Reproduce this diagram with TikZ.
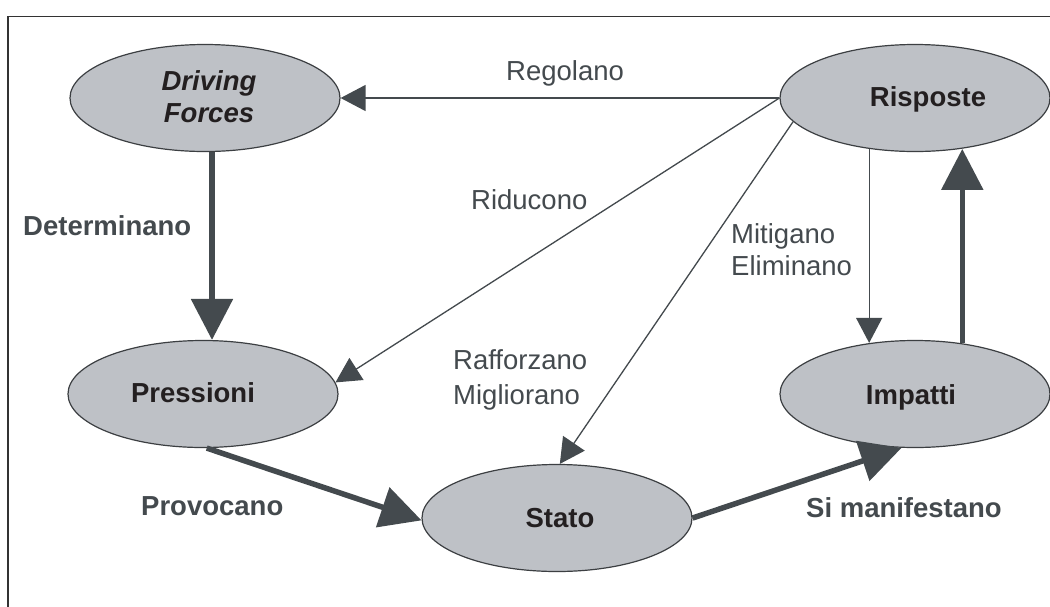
\documentclass[tikz,border=0pt]{standalone}
\usepackage{fontspec}
\setmainfont{Liberation Sans}
\usetikzlibrary{arrows.meta,shapes.geometric}
\definecolor{ln}{HTML}{444A4E}
\definecolor{fillg}{HTML}{BEC1C6}
\definecolor{ellb}{HTML}{3C3F42}
\definecolor{txt}{HTML}{231F20}
\definecolor{frm}{HTML}{333333}
\begin{document}
\begin{tikzpicture}[x=1pt,y=-1pt,
  ell/.style={ellipse, draw=ellb, line width=1.2pt, fill=fillg, minimum width=270pt, minimum height=107pt, inner sep=0pt},
  thinarr/.style={draw=ln, fill=ln, line width=1.3pt, -{Triangle[length=25pt,width=26pt]}},
  thickarr/.style={draw=ln, fill=ln, line width=5.5pt, -{Triangle[length=41pt,width=41pt]}},
  nt/.style={inner sep=0pt, text=txt, font=\fontsize{27.5}{32}\selectfont\bfseries, align=center},
  lbl/.style={inner sep=0pt, text=ln, font=\fontsize{27.5}{32}\selectfont, align=left, anchor=base west},
  blbl/.style={lbl, font=\fontsize{27.5}{32}\selectfont\bfseries}
]
\useasboundingbox (0,0) rectangle (1050,606);
\fill[white] (0,0) rectangle (1050,606);
\draw[frm, line width=1.5pt] (1060,16.5) -- (8,16.5) -- (8,616);

% ellipses
\node[ell] (DF) at (205,98) {};
\node[ell] (R) at (915,98) {};
\node[ell] (P) at (203,394) {};
\node[ell] (S) at (557,518) {};
\node[ell] (I) at (915,394) {};

% node texts
\node[nt, anchor=base] (tDF) at (209,122) {\itshape Driving\\\itshape Forces};
\node[nt, anchor=base] (tR) at (928,106) {Risposte};
\node[nt, anchor=base] (tP) at (193,402) {Pressioni};
\node[nt, anchor=base] (tS) at (560,527) {Stato};
\node[nt, anchor=base] (tI) at (911,404) {Impatti};

% connectors
\draw[thinarr] (R.west) -- (DF.east);
\draw[thinarr] (R.west) -- (P.5);
\draw[thinarr] (R.191) -- (S.87);
\draw[thinarr] (R.228.2) -- (R.228.2 |- I.131.5);
\draw[thickarr] (I.47.6) -- (I.47.6 |- R.312.4);
\draw[thickarr] ([xshift=7pt]DF.south) -- ([xshift=7pt]DF.south |- P.north);
\draw[thickarr] (P.274.3) -- (S.181);
\draw[thickarr] (S.east) -- (I.256.4);

% labels
\node[lbl] (lReg) at (506,80) {Regolano};
\node[lbl] (lRid) at (471,209) {Riducono};
\node[lbl] (lMit) at (731,275) {Mitigano\\Eliminano};
\node[lbl] (lRaf) at (453,404) {Rafforzano\\[3pt]Migliorano};
\node[blbl] (lDet) at (23,235) {Determinano};
\node[blbl] (lPro) at (141,515) {Provocano};
\node[blbl] (lSim) at (806,517) {Si manifestano};
\end{tikzpicture}
\end{document}
